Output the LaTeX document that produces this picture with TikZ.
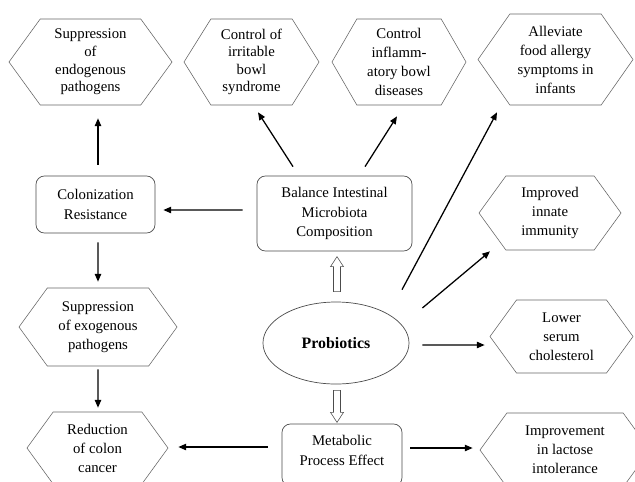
\documentclass[tikz,border=0pt]{standalone}
\usepackage{fontspec}
\setmainfont{Liberation Serif}
\usetikzlibrary{shapes.symbols,shapes.geometric,arrows.meta}

\tikzset{
  hexa/.style={signal, signal to=east and west, signal pointer angle=108,
    draw=black!60, line width=0.4pt, fill=white, align=center, inner sep=0pt,
    font=\fontsize{10.5}{13.5}\selectfont},
  rbox/.style={rectangle, rounded corners=6pt, draw=black!70, line width=0.5pt,
    fill=white, align=center, inner sep=1pt, font=\fontsize{10.5}{14}\selectfont},
  arr/.style={-{Triangle[length=5.5pt,width=4.5pt]}, line width=0.9pt},
  hollow/.style={draw=black!70, line width=0.4pt, fill=white}
}

\begin{document}
\begin{tikzpicture}[x=0.025cm, y=-0.025cm]
  \useasboundingbox (0,0) rectangle (635,481);

  % probiotics
  \node[ellipse, draw=black!70, line width=0.5pt, fill=white,
        minimum width=3.65cm, minimum height=2.05cm,
        font=\fontsize{11.3}{13}\selectfont\bfseries] (probiotics) at (336,343) {Probiotics};

  % effect boxes
  \node[rbox, minimum width=3.875cm, minimum height=1.875cm] (balance) at (334.5,213.5)
    {Balance Intestinal\\Microbiota\\Composition};
  \node[rbox, minimum width=2.975cm, minimum height=1.425cm] (colres) at (95.5,204.5)
    {Colonization\\Resistance};
  \node[rbox, minimum width=3cm, minimum height=1.55cm, text depth=7pt] (metab) at (342,455)
    {Metabolic\\Process Effect};

  % outcomes
  \node[hexa, minimum width=4.075cm, minimum height=2.15cm,
        font=\fontsize{10.5}{12.5}\selectfont] (endo) at (90.5,62)
    {Suppression\\of\\endogenous\\pathogens};
  \node[hexa, signal pointer angle=116, minimum width=3.375cm, minimum height=2.15cm,
        font=\fontsize{10.5}{12.5}\selectfont] (ibs) at (251.5,62)
    {Control of\\irritable\\bowl\\syndrome};
  \node[hexa, signal pointer angle=120, minimum width=3.35cm, minimum height=2.15cm] (ibd) at (399,62)
    {Control\\inflamm-\\atory bowl\\diseases};
  \node[hexa, signal pointer angle=110, minimum width=3.875cm, minimum height=2.275cm] (allergy) at (555.5,59.5)
    {Alleviate\\food allergy\\symptoms in\\infants};
  \node[hexa, minimum width=3.55cm, minimum height=1.85cm] (innate) at (550,213)
    {Improved\\innate\\immunity};
  \node[hexa, minimum width=3.575cm, minimum height=1.825cm] (chol) at (561.5,336.5)
    {Lower\\serum\\cholesterol};
  \node[hexa, minimum width=4.25cm, minimum height=1.85cm] (lactose) at (565,450)
    {Improvement\\in lactose\\intolerance};
  \node[hexa, minimum width=3.95cm, minimum height=1.95cm] (exo) at (98,327)
    {Suppression\\of exogenous\\pathogens};
  \node[hexa, minimum width=3.525cm, minimum height=1.8cm] (colon) at (97.5,448)
    {Reduction\\of colon\\cancer};

  % open arrows
  \draw[hollow] ([shift={(-2.5,-10)}]probiotics.north) -- ++(0,-25) -- ++(-3,0)
    -- ++(6.5,-10) -- ++(6.5,10) -- ++(-3,0) -- ++(0,25) -- cycle;
  \draw[hollow] ([shift={(-2.5,6)}]probiotics.south) -- ++(0,22) -- ++(-3,0)
    -- ++(6.5,10) -- ++(6.5,-10) -- ++(-3,0) -- ++(0,-22) -- cycle;

  % left branch
  \draw[arr] ([shift={(-14,-3.5)}]balance.west) -- ([shift={(8,5.5)}]colres.east);
  \draw[arr] ([shift={(2.5,-11)}]colres.north) -- ([shift={(7.5,13)}]endo.south);
  \draw[arr] ([shift={(2.5,9)}]colres.south) -- ([shift={(0,-6)}]exo.north);
  \draw[arr] ([shift={(0,3)}]exo.south) -- ([shift={(0.5,-4)}]colon.north);
  \draw[arr] ([shift={(-14,-8)}]metab.west) -- ([shift={(10,-1)}]colon.east);

  % top branch
  \draw[arr] ([shift={(-41.5,-9)}]balance.north) -- ([shift={(6.5,7)}]ibs.south);
  \draw[arr] ([shift={(30.5,-9)}]balance.north) -- ([shift={(-2,11)}]ibd.south);

  % right branch
  \draw[arr] ([shift={(66,-12)}]probiotics.north) -- ([shift={(-58.5,7)}]allergy.south);
  \draw[arr] ([shift={(13,-35)}]probiotics.east) -- ([shift={(-60,1)}]innate.south);
  \draw[arr] ([shift={(13,2)}]probiotics.east) -- ([shift={(-5,8.5)}]chol.west);
  \draw[arr] ([shift={(8,-7)}]metab.east) -- ([shift={(-7,-2)}]lactose.west);

\end{tikzpicture}
\end{document}
